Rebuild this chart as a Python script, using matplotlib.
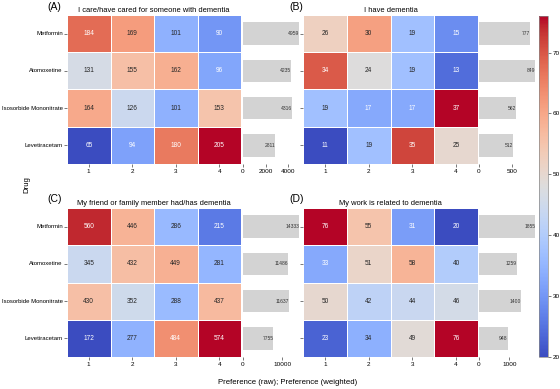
import numpy as np
import matplotlib
matplotlib.use("Agg")
import matplotlib.pyplot as plt
import seaborn as sns

plt.rcParams['font.family'] = ['Liberation Sans', 'DejaVu Sans']

drugs = ["Metformin", "Atomoxetine", "Isosorbide Mononitrate", "Levetiracetam"]
ranks = ["1", "2", "3", "4"]

titles = ["I care/have cared for someone with dementia",
          "I have dementia",
          "My friend or family member had/has dementia",
          "My work is related to dementia"]
panel_labels = ["(A)", "(B)", "(C)", "(D)"]

raw_a = [[184, 169, 101, 90],
         [131, 155, 162, 96],
         [164, 126, 101, 153],
         [65, 94, 180, 205]]
raw_b = [[26, 30, 19, 15],
         [34, 24, 19, 13],
         [19, 17, 17, 37],
         [11, 19, 35, 25]]
raw_c = [[560, 446, 286, 215],
         [345, 432, 449, 281],
         [430, 352, 288, 437],
         [172, 277, 484, 574]]
raw_d = [[76, 55, 31, 20],
         [33, 51, 58, 40],
         [50, 42, 44, 46],
         [23, 34, 49, 76]]

weighted_a = [4959, 4235, 4316, 2811]
weighted_b = [777, 849, 562, 512]
weighted_c = [14333, 11486, 11637, 7755]
weighted_d = [1855, 1259, 1400, 948]

bar_ticks = [[0, 2000, 4000], [0, 500], [0, 10000], [0, 1000]]

raws = [raw_a, raw_b, raw_c, raw_d]
weights = [weighted_a, weighted_b, weighted_c, weighted_d]

W, H = 560, 389
fig = plt.figure(figsize=(W / 100, H / 100), dpi=100)

def box(x0, x1, ytop, ybot):
    return [x0 / W, 1 - ybot / H, (x1 - x0) / W, (ybot - ytop) / H]

heat_x = [(67, 241), (303, 478)]
bar_x = [(243, 302), (479, 538)]
rows_y = [(15, 164), (208, 357)]

tick_fs = 4.6
mappable = None
for i in range(4):
    r, c = divmod(i, 2)
    yt, yb = rows_y[r]
    axh = fig.add_axes(box(heat_x[c][0], heat_x[c][1], yt, yb))
    data = np.array(raws[i])
    sns.heatmap(data, ax=axh, cmap="coolwarm", annot=True, fmt="d",
                annot_kws={"fontsize": 4.7}, cbar=False,
                linewidths=0.5, linecolor="white",
                xticklabels=ranks, yticklabels=drugs if c == 0 else False)
    if c == 1:
        axh.set_yticks(np.arange(4) + 0.5)
        axh.set_yticklabels([])
    axh.tick_params(axis='x', labelsize=tick_fs, length=2, width=0.5, pad=1.5,
                    color='#444444')
    axh.tick_params(axis='y', labelsize=4.35, length=2, width=0.5, pad=1.0,
                    color='#444444', labelrotation=0)
    axh.set_xlabel("")
    axh.set_ylabel("")
    axh.set_title(titles[i], fontsize=5.4, pad=2.5)
    if i == 3:
        mappable = axh.collections[0]

    axb = fig.add_axes(box(bar_x[c][0], bar_x[c][1], yt, yb))
    vals = weights[i]
    ypos = np.arange(4) + 0.5
    axb.barh(ypos, vals, height=0.6, color="#d3d3d3")
    axb.set_ylim(4, 0)
    axb.set_xlim(0, max(vals) * 1.05)
    for y, v in zip(ypos, vals):
        axb.text(v, y, str(v), ha="right", va="center", fontsize=3.6, color="#333333")
    for s in axb.spines.values():
        s.set_visible(False)
    axb.set_yticks([])
    axb.set_xticks(bar_ticks[i])
    axb.tick_params(axis='x', labelsize=tick_fs, length=2, width=0.5, pad=1.5,
                    color='#444444')

    lx = 47 if c == 0 else 289
    ly = 7 if r == 0 else 199
    fig.text(lx / W, 1 - ly / H, panel_labels[i], fontsize=7.5, va="center", ha="left")

cax = fig.add_axes(box(539, 548, 16, 357))
cb = fig.colorbar(mappable, cax=cax)
cb.set_ticks([20, 30, 40, 50, 60, 70])
cb.ax.tick_params(labelsize=tick_fs, length=2, width=0.5, pad=1.5, color='#444444')
cb.outline.set_linewidth(0.5)
cb.outline.set_edgecolor('#888888')

fig.text(27 / W, 1 - 185 / H, "Drug", rotation=90, fontsize=5.6, va="center", ha="center")
fig.text(288 / W, 1 - 383 / H, "Preference (raw); Preference (weighted)",
         fontsize=5.6, va="center", ha="center")

fig.savefig("out.png", dpi=100)
